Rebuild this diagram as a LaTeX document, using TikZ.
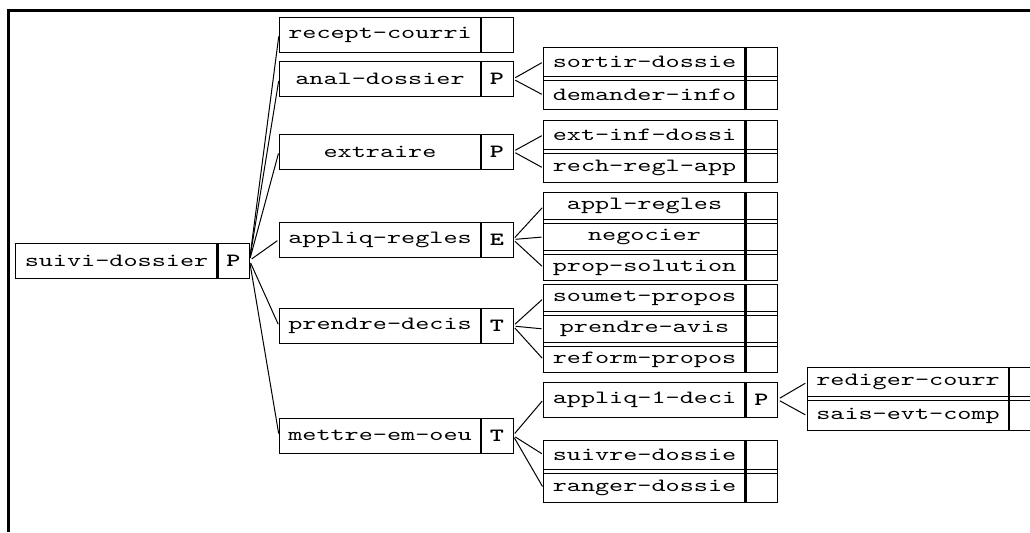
\documentclass[tikz,border=0pt]{standalone}
\usepackage{fontspec}
\newfontfamily\boxfont[Extension=.otf, UprightFont=*-regular, BoldFont=lmmonolt10-bold, FakeStretch=1.44]{lmmono10}
\usepackage{tikz}
\usetikzlibrary{positioning}

\tikzset{
  lbl/.style={draw, rectangle, inner sep=0pt, outer sep=0pt, line width=0.75pt,
    minimum width=151.5pt, minimum height=26.25pt,
    font=\boxfont\fontsize{14pt}{16pt}\selectfont},
  tag/.style={lbl, minimum width=24pt, font=\boxfont\bfseries\fontsize{14pt}{16pt}\selectfont},
  hrow/.style={minimum height=22.1pt},
  hthree/.style={minimum height=20pt},
  frame/.style={line width=0.75pt},
  divider/.style={line width=2pt},
  link/.style={line width=0.75pt, shorten <=2pt, shorten >=1.5pt},
}

\begin{document}
\begin{tikzpicture}[x=0.75pt, y=-0.75pt]
  \useasboundingbox (0,0) rectangle (1030,532);
  \clip (0,0) rectangle (1030,532);

  % Border
  \draw[line width=2.25pt] (8.7,532) -- (8.7,10.3) -- (1030,10.3);

  % Root
  \node[lbl] (suivi) at (116.5,260.5) {suivi-dossier};
  \node[tag, right=0pt of suivi] (suiviT) {P};

  % Level 2
  \node[lbl] (recept) at (380,34.5) {recept-courri};
  \node[tag, right=0pt of recept] (receptT) {};
  \node[lbl] (anal) at (380,79) {anal-dossier};
  \node[tag, right=0pt of anal] (analT) {P};
  \node[lbl] (extraire) at (380,151.5) {extraire};
  \node[tag, right=0pt of extraire] (extraireT) {P};
  \node[lbl] (appliq) at (380,239.5) {appliq-regles};
  \node[tag, right=0pt of appliq] (appliqT) {E};
  \node[lbl] (prendre) at (380,326) {prendre-decis};
  \node[tag, right=0pt of prendre] (prendreT) {T};
  \node[lbl] (mettre) at (380,435.5) {mettre-em-oeu};
  \node[tag, right=0pt of mettre] (mettreT) {T};

  % Level 3
  \node[lbl, hrow] (sortir) at (644.5,61.75) {sortir-dossie};
  \node[tag, hrow, right=0pt of sortir] (sortirT) {};
  \node[lbl, hrow, below=3pt of sortir] (demander) {demander-info};
  \node[tag, hrow, right=0pt of demander] (demanderT) {};

  \node[lbl, hrow] (extinf) at (644.5,134.75) {ext-inf-dossi};
  \node[tag, hrow, right=0pt of extinf] (extinfT) {};
  \node[lbl, hrow, below=3pt of extinf] (rech) {rech-regl-app};
  \node[tag, hrow, right=0pt of rech] (rechT) {};

  \node[lbl, hthree] (appl) at (644.5,206.3) {appl-regles};
  \node[tag, hthree, right=0pt of appl] (applT) {};
  \node[lbl, hthree, below=3pt of appl] (negocier) {negocier};
  \node[tag, hthree, right=0pt of negocier] (negocierT) {};
  \node[lbl, hthree, below=3pt of negocier] (propsol) {prop-solution};
  \node[tag, hthree, right=0pt of propsol] (propsolT) {};

  \node[lbl, hthree] (soumet) at (644.5,298.3) {soumet-propos};
  \node[tag, hthree, right=0pt of soumet] (soumetT) {};
  \node[lbl, hthree, below=3pt of soumet] (avis) {prendre-avis};
  \node[tag, hthree, right=0pt of avis] (avisT) {};
  \node[lbl, hthree, below=3pt of avis] (reform) {reform-propos};
  \node[tag, hthree, right=0pt of reform] (reformT) {};

  \node[lbl] (deci) at (644.5,399.5) {appliq-1-deci};
  \node[tag, right=0pt of deci] (deciT) {P};

  \node[lbl, hrow] (suivre) at (644.5,454.75) {suivre-dossie};
  \node[tag, hrow, right=0pt of suivre] (suivreT) {};
  \node[lbl, hrow, below=3pt of suivre] (ranger) {ranger-dossie};
  \node[tag, hrow, right=0pt of ranger] (rangerT) {};

  % Level 4
  \node[lbl, hrow] (rediger) at (908,382.25) {rediger-courr};
  \node[tag, hrow, right=0pt of rediger] (redigerT) {};
  \node[lbl, hrow, below=3pt of rediger] (sais) {sais-evt-comp};
  \node[tag, hrow, right=0pt of sais] (saisT) {};

  % Group frames and dividers
  \foreach \a/\b in {sortir/demander, extinf/rech, appl/propsol, soumet/reform,
                     suivre/ranger, rediger/sais} {
    \draw[frame] (\a.north west) rectangle (\b T.south east);
    \draw[divider] (\a.north east) -- (\b.south east);
  }
  \foreach \n in {suivi, recept, anal, extraire, appliq, prendre, mettre, deci}
    \draw[divider] (\n.north east) -- (\n.south east);

  % Links
  \foreach \c in {recept, anal, extraire, appliq, prendre, mettre}
    \draw[link] (suiviT.east) -- (\c.west);
  \foreach \c in {sortir, demander}
    \draw[link] (analT.east) -- (\c.west);
  \foreach \c in {extinf, rech}
    \draw[link] (extraireT.east) -- (\c.west);
  \foreach \c in {appl, negocier, propsol}
    \draw[link] (appliqT.east) -- (\c.west);
  \foreach \c in {soumet, avis, reform}
    \draw[link] (prendreT.east) -- (\c.west);
  \foreach \c in {deci, suivre, ranger}
    \draw[link] (mettreT.east) -- (\c.west);
  \foreach \c in {rediger, sais}
    \draw[link] (deciT.east) -- (\c.west);
\end{tikzpicture}
\end{document}
